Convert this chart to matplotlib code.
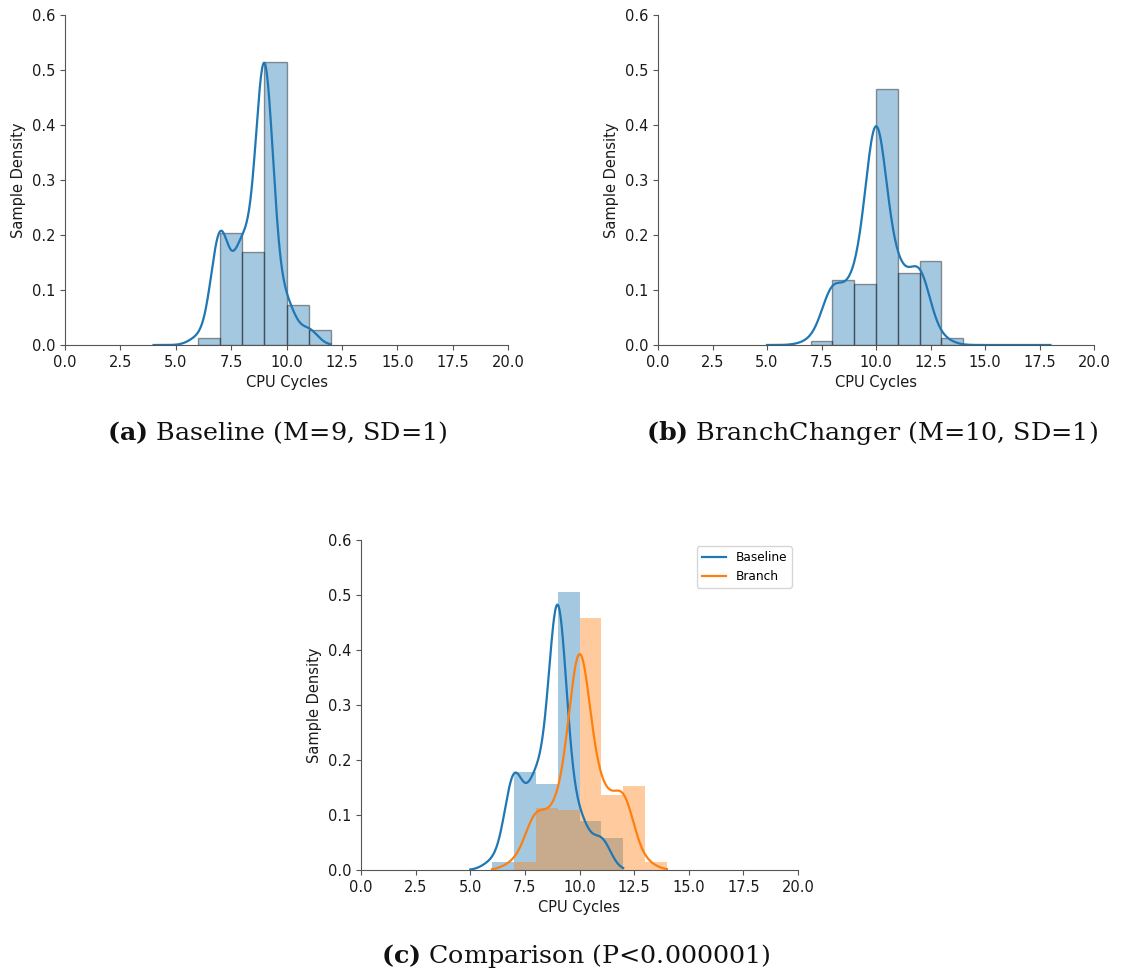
import numpy as np
import matplotlib.pyplot as plt

plt.rcParams['mathtext.fontset'] = 'dejavuserif'

# observed CPU cycle counts and their share of the samples
base_cycles = [6, 7, 8, 9, 10, 11]
base_share = [0.013, 0.203, 0.169, 0.515, 0.072, 0.028]
branch_cycles = [7, 8, 9, 10, 11, 12, 13]
branch_share = [0.008, 0.118, 0.110, 0.465, 0.131, 0.153, 0.013]

# second run, used for the comparison plot
cmp_base_share = [0.015, 0.178, 0.157, 0.505, 0.090, 0.058]
cmp_branch_share = [0.014, 0.113, 0.110, 0.459, 0.137, 0.153, 0.015]

# kde bandwidth and support for each curve
bw = {'base': 0.41, 'branch': 0.50, 'cmp_base': 0.43, 'cmp_branch': 0.50}
span = {'base': (4, 12), 'branch': (5, 18), 'cmp_base': (5, 12), 'cmp_branch': (6, 14)}

xticks = [0, 2.5, 5, 7.5, 10, 12.5, 15, 17.5, 20]
yticks = [0, 0.1, 0.2, 0.3, 0.4, 0.5, 0.6]

captions = [r'$\mathbf{(a)}$ Baseline (M=9, SD=1)',
            r'$\mathbf{(b)}$ BranchChanger (M=10, SD=1)',
            r'$\mathbf{(c)}$ Comparison (P<0.000001)']


def kde(values, weights, h, lo, hi, n=300):
    xs = np.linspace(lo, hi, n)
    v = np.asarray(values, float)[:, None]
    w = np.asarray(weights, float)[:, None]
    w = w / w.sum()
    ys = (w * np.exp(-0.5 * ((xs - v) / h) ** 2) / (h * np.sqrt(2 * np.pi))).sum(axis=0)
    return xs, ys


def edges(values):
    return np.arange(values[0], values[-1] + 2)


def style(ax):
    ax.set_xlim(0, 20)
    ax.set_ylim(0, 0.6)
    ax.set_xticks(xticks)
    ax.set_yticks(yticks)
    ax.set_xticklabels([f'{t:.1f}' for t in xticks])
    ax.set_yticklabels([f'{t:.1f}' for t in yticks])
    ax.tick_params(labelsize=10.5, color='#555555', labelcolor='#1a1a1a')
    ax.set_xlabel('CPU Cycles', fontsize=10.5, color='#1a1a1a')
    ax.set_ylabel('Sample Density', fontsize=10.5, color='#1a1a1a')
    for s in ['top', 'right']:
        ax.spines[s].set_visible(False)
    for s in ['left', 'bottom']:
        ax.spines[s].set_color('#555555')


def dist(ax, values, weights, key, color, edge=True, label=None):
    ax.hist(values, bins=edges(values), weights=weights, color=color, alpha=0.4,
            edgecolor='k' if edge else None, linewidth=1 if edge else 0)
    xs, ys = kde(values, weights, bw[key], *span[key])
    ax.plot(xs, ys, color=color, lw=1.6, label=label)


W, H = 1121, 976
fig = plt.figure(figsize=(W / 100, H / 100), dpi=100)


def axes_px(x0, x1, y0, y1):
    return fig.add_axes([x0 / W, 1 - y1 / H, (x1 - x0) / W, (y1 - y0) / H])


ax_a = axes_px(65, 508, 15, 345)
dist(ax_a, base_cycles, base_share, 'base', 'C0')
style(ax_a)

ax_b = axes_px(658, 1094, 15, 345)
dist(ax_b, branch_cycles, branch_share, 'branch', 'C0')
style(ax_b)

ax_c = axes_px(361, 798, 540, 870)
dist(ax_c, base_cycles, cmp_base_share, 'cmp_base', 'C0', edge=False, label='Baseline')
dist(ax_c, branch_cycles, cmp_branch_share, 'cmp_branch', 'C1', edge=False, label='Branch')
style(ax_c)
ax_c.legend(loc='upper right', fontsize=8.75)

cap = dict(ha='center', va='center', family='DejaVu Serif', fontsize=18.3, color='#111111')
fig.text(277 / W, 1 - 433 / H, captions[0], **cap)
fig.text(872 / W, 1 - 433 / H, captions[1], **cap)
fig.text(576 / W, 1 - 956 / H, captions[2], **cap)

fig.savefig('out.png', dpi=100)
